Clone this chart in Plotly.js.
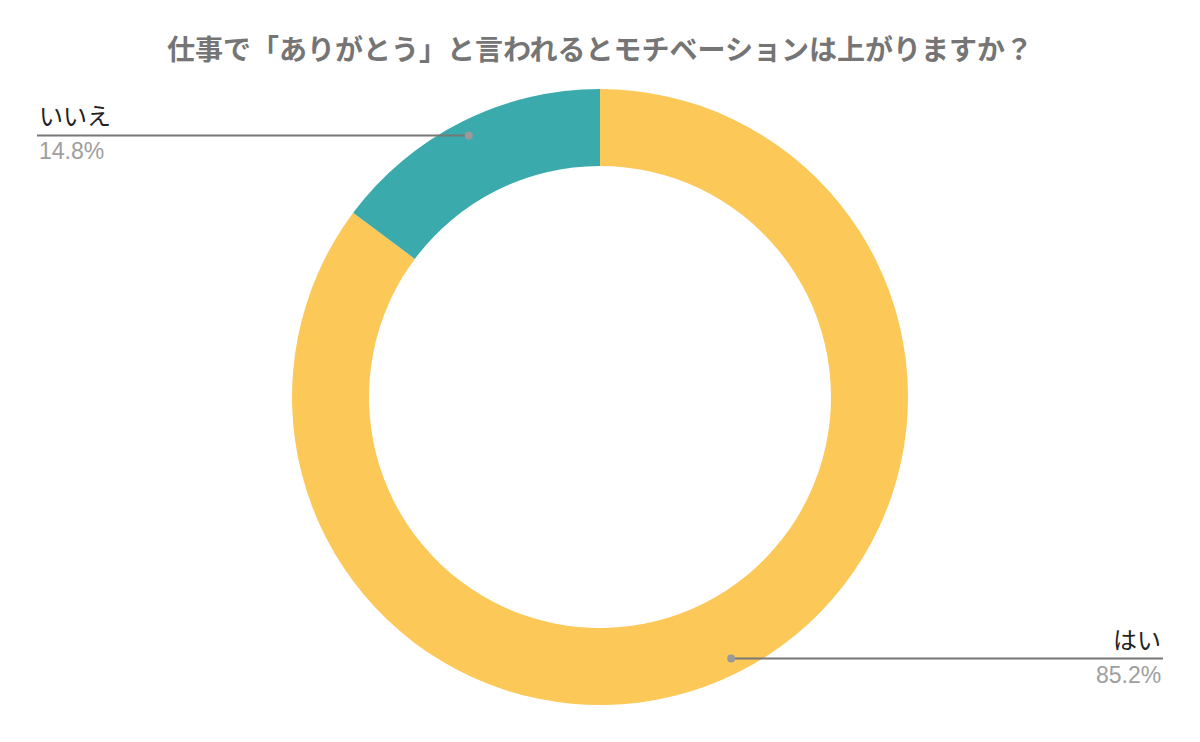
<!DOCTYPE html>
<html>
<head>
<meta charset="utf-8">
<script src="https://cdn.plot.ly/plotly-3.0.1.min.js"></script>
<style>
  html, body { margin: 0; padding: 0; background: #fff; }
  #chart { width: 1200px; height: 742px; }
</style>
</head>
<body>
<div id="chart"></div>
<script>
const labels = ['はい', 'いいえ'];
const values = [85.2, 14.8];
const colors = ['#FCC858', '#3AAAAD'];

const W = 1200, H = 742;
const margin = { t: 89, b: 37, l: 0, r: 0 };
const plotH = H - margin.t - margin.b;
const radius = plotH / 2;

// pixel -> paper
const px = x => (x - margin.l) / (W - margin.l - margin.r);
const py = y => (H - margin.b - y) / plotH;

const cx = W / 2, cy = margin.t + radius;
const total = values.reduce((a, b) => a + b, 0);

const shapes = [];
const annotations = [];
let cum = 0;
values.forEach((v, i) => {
    const mid = (cum + v / 2) / total * 2 * Math.PI;
    cum += v;
    const r = radius * 0.95;
    const dx = cx + Math.sin(mid) * r;
    const dy = cy - Math.cos(mid) * r;
    const right = Math.sin(mid) > 0;
    const ex = right ? 1163 : 37;

    shapes.push({
        type: 'line', xref: 'paper', yref: 'paper',
        x0: px(dx), y0: py(dy), x1: px(ex), y1: py(dy),
        line: { color: '#777777', width: 2 }
    });
    shapes.push({
        type: 'circle', xref: 'paper', yref: 'paper',
        x0: px(dx - 4), x1: px(dx + 4), y0: py(dy - 4), y1: py(dy + 4),
        fillcolor: '#999999', line: { width: 0 }
    });
    annotations.push({
        xref: 'paper', yref: 'paper', x: px(ex), y: py(dy - 1),
        xanchor: right ? 'right' : 'left', yanchor: 'bottom',
        text: labels[i], showarrow: false,
        font: { family: 'Noto Sans CJK JP, sans-serif', size: 24, color: '#222222' }
    });
    annotations.push({
        xref: 'paper', yref: 'paper', x: px(ex), y: py(dy + 1),
        xanchor: right ? 'right' : 'left', yanchor: 'top',
        text: v.toFixed(1) + '%', showarrow: false,
        font: { family: 'Arial, Liberation Sans, sans-serif', size: 23, color: '#9E9E9E' }
    });
});

const trace = {
    type: 'pie',
    labels: labels,
    values: values,
    hole: 0.75,
    sort: false,
    direction: 'clockwise',
    rotation: 0,
    marker: { colors: colors, line: { color: '#ffffff', width: 0 } },
    textinfo: 'none',
    hoverinfo: 'label+percent'
};

const layout = {
    width: W,
    height: H,
    margin: margin,
    showlegend: false,
    paper_bgcolor: '#ffffff',
    title: {
        text: '<b>仕事で「ありがとう」と言われるとモチベーションは上がりますか？</b>',
        x: 0.5, xanchor: 'center',
        y: 1 - 50 / H, yanchor: 'middle', yref: 'container',
        font: { family: 'Noto Sans CJK JP, sans-serif', size: 28, color: '#757575' }
    },
    shapes: shapes,
    annotations: annotations
};

Plotly.newPlot('chart', [trace], layout, { displayModeBar: false, staticPlot: true });
</script>
</body>
</html>
